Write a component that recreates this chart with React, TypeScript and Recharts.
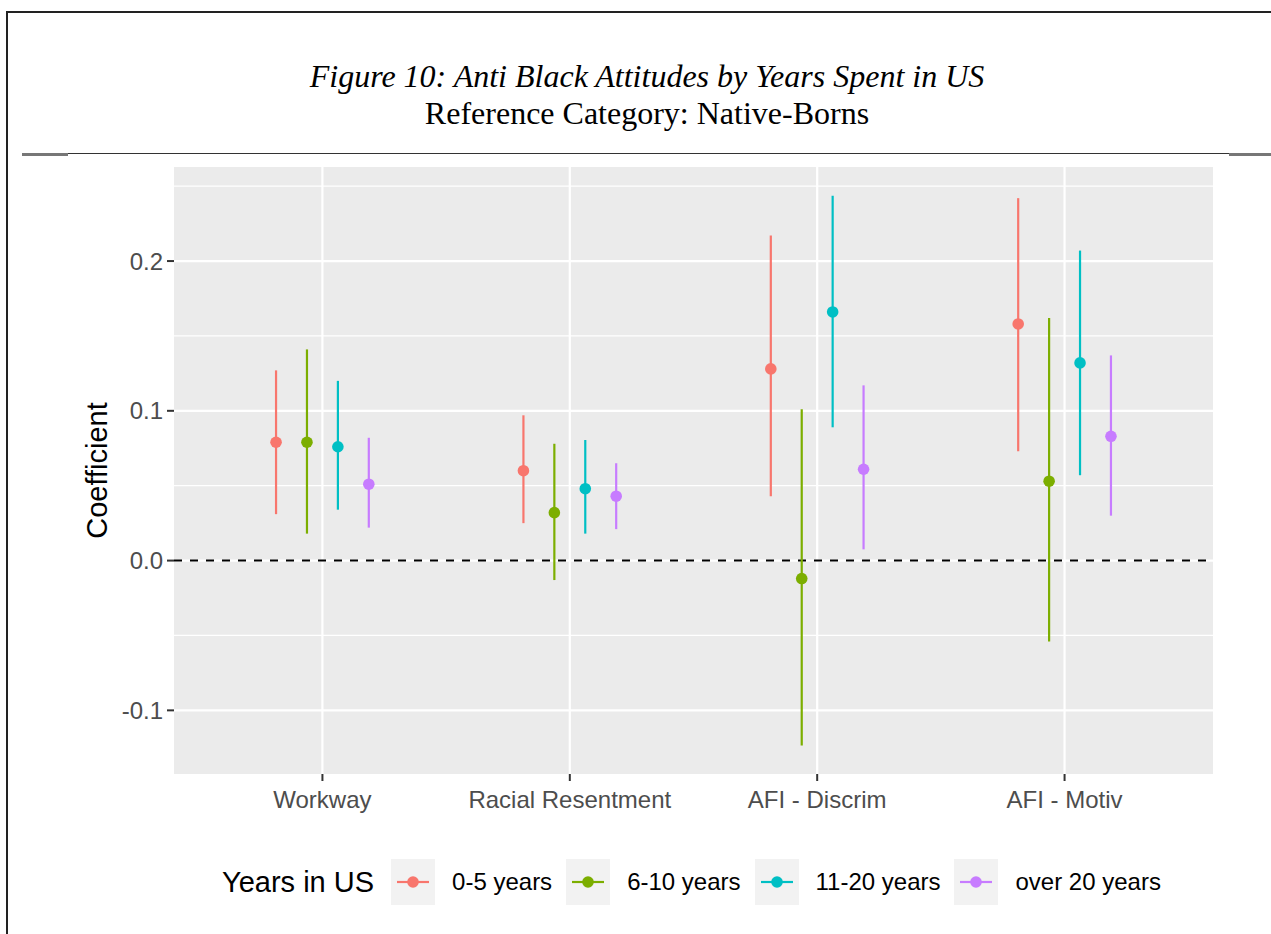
import React from "react";
import {
  ScatterChart,
  Scatter,
  XAxis,
  YAxis,
  CartesianGrid,
  ErrorBar,
  ReferenceLine,
  Label,
} from "recharts";

const categories = ["Workway", "Racial Resentment", "AFI - Discrim", "AFI - Motiv"];
const groups = ["0-5 years", "6-10 years", "11-20 years", "over 20 years"];
const colors = ["#F8766D", "#7CAE00", "#00BFC4", "#C77CFF"];

// point estimate, lower and upper bound, one entry per category
const est05 = [0.079, 0.060, 0.128, 0.158];
const low05 = [0.031, 0.025, 0.043, 0.073];
const high05 = [0.127, 0.097, 0.217, 0.242];

const est610 = [0.079, 0.032, -0.012, 0.053];
const low610 = [0.018, -0.013, -0.1235, -0.054];
const high610 = [0.141, 0.078, 0.101, 0.162];

const est1120 = [0.076, 0.048, 0.166, 0.132];
const low1120 = [0.034, 0.018, 0.089, 0.057];
const high1120 = [0.12, 0.0805, 0.2436, 0.207];

const est20 = [0.051, 0.043, 0.061, 0.083];
const low20 = [0.022, 0.021, 0.0075, 0.030];
const high20 = [0.082, 0.065, 0.117, 0.137];

const yTicks = [-0.1, 0, 0.1, 0.2];
const yMinor = [-0.05, 0.05, 0.15, 0.25];
const catTicks = [1, 2, 3, 4];

const seriesRaw = [
  { est: est05, low: low05, high: high05 },
  { est: est610, low: low610, high: high610 },
  { est: est1120, low: low1120, high: high1120 },
  { est: est20, low: low20, high: high20 },
];

const dodgeWidth = 0.5;

const series = seriesRaw.map((s, gi) =>
  s.est.map((v, ci) => ({
    x: ci + 1 + (gi - 1.5) * (dodgeWidth / 4),
    y: v,
    err: [v - s.low[ci], s.high[ci] - v],
  }))
);

const sans = "'Liberation Sans', Arial, sans-serif";
const serif = "'Liberation Serif', 'Times New Roman', serif";

const Dot = (color: string) => (props: any) => {
  const { cx, cy } = props;
  if (cx == null || cy == null) return null;
  return <circle cx={cx} cy={cy} r={5.8} fill={color} />;
};

export default function App() {
  return (
    <div style={{ position: "absolute", left: 0, top: 0, width: 1271, height: 934, background: "#fff", overflow: "hidden" }}>
      {/* page frame */}
      <div style={{ position: "absolute", left: 7, top: 11, width: 1264, height: 2, background: "#222" }} />
      <div style={{ position: "absolute", left: 6, top: 11, width: 2, height: 923, background: "#222" }} />
      <div style={{ position: "absolute", left: 22, top: 153, width: 1249, height: 1, background: "#333" }} />
      <div style={{ position: "absolute", left: 22, top: 153, width: 46, height: 3, background: "#777" }} />
      <div style={{ position: "absolute", left: 1229, top: 153, width: 42, height: 3, background: "#777" }} />

      <div
        style={{
          position: "absolute",
          left: 0,
          top: 58,
          width: 1294,
          textAlign: "center",
          fontFamily: serif,
          fontSize: 32,
          lineHeight: "37px",
          color: "#000",
        }}
      >
        <div style={{ fontStyle: "italic" }}>Figure 10: Anti Black Attitudes by Years Spent in US</div>
        <div>Reference Category: Native-Borns</div>
      </div>

      <div style={{ position: "absolute", left: 0, top: 0 }}>
        <ScatterChart width={1271} height={934} margin={{ top: 167, right: 58, left: 60, bottom: 100 }}>
          <CartesianGrid
            fill="#EBEBEB"
            fillOpacity={1}
            stroke="#FFFFFF"
            strokeWidth={1.2}
            vertical={false}
            horizontalValues={yMinor}
          />
          <CartesianGrid
            stroke="#FFFFFF"
            strokeWidth={2.2}
            horizontalValues={yTicks}
            verticalValues={catTicks}
          />
          <XAxis
            type="number"
            dataKey="x"
            domain={[0.4, 4.6]}
            ticks={catTicks}
            allowDataOverflow
            tickFormatter={(v: number) => categories[Math.round(v) - 1]}
            tick={{ fill: "#4D4D4D", fontSize: 24, fontFamily: sans }}
            tickLine={{ stroke: "#333", strokeWidth: 2 }}
            tickSize={7}
            tickMargin={10}
            axisLine={false}
            height={60}
          />
          <YAxis
            type="number"
            dataKey="y"
            domain={[-0.1425, 0.2628]}
            ticks={yTicks}
            allowDataOverflow
            tickFormatter={(v: number) => v.toFixed(1)}
            tick={{ fill: "#4D4D4D", fontSize: 24, fontFamily: sans }}
            tickLine={{ stroke: "#333", strokeWidth: 2 }}
            tickSize={7}
            tickMargin={4}
            axisLine={false}
            width={114}
          >
            <Label
              value="Coefficient"
              angle={-90}
              position="insideLeft"
              offset={37}
              style={{ textAnchor: "middle", fontSize: 29, fontFamily: sans, fill: "#000" }}
            />
          </YAxis>
          <ReferenceLine y={0} stroke="#000" strokeWidth={2} strokeDasharray="8 8" />
          {series.map((data, gi) => (
            <Scatter
              key={groups[gi]}
              name={groups[gi]}
              data={data}
              fill={colors[gi]}
              shape={Dot(colors[gi])}
              isAnimationActive={false}
            >
              <ErrorBar dataKey="err" direction="y" width={0} stroke={colors[gi]} strokeWidth={2.2} isAnimationActive={false} />
            </Scatter>
          ))}
        </ScatterChart>
      </div>

      {/* legend */}
      <div
        style={{
          position: "absolute",
          left: 222,
          top: 859,
          height: 46,
          display: "flex",
          alignItems: "center",
          fontFamily: sans,
          color: "#000",
        }}
      >
        <div style={{ fontSize: 29 }}>Years in US</div>
        {groups.map((g, i) => (
          <React.Fragment key={g}>
            <div style={{ marginLeft: i === 0 ? 17 : 14, width: 44, height: 46, background: "#F2F2F2" }}>
              <svg width={44} height={46}>
                <line x1={6} y1={23} x2={38} y2={23} stroke={colors[i]} strokeWidth={2.2} />
                <circle cx={22} cy={23} r={5.8} fill={colors[i]} />
              </svg>
            </div>
            <div style={{ marginLeft: 17, fontSize: 24 }}>{g}</div>
          </React.Fragment>
        ))}
      </div>
    </div>
  );
}
